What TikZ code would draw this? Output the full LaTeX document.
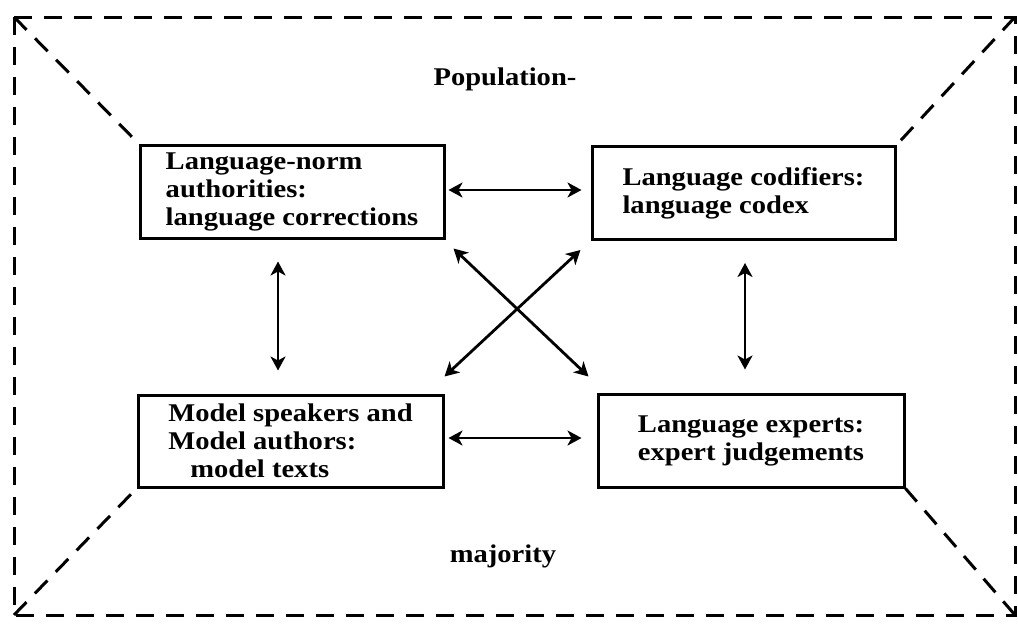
\documentclass[tikz,border=0pt]{standalone}
\usepackage{fontspec}
\setmainfont{Liberation Serif}[FakeStretch=1.12]
\usetikzlibrary{arrows.meta,calc}
\begin{document}
\begin{tikzpicture}[x=1pt,y=-1pt,
  box/.style={draw,line width=3pt,inner sep=0pt,font=\fontsize{25.5}{28}\selectfont\bfseries},
  lbl/.style={inner sep=0pt,font=\fontsize{25.5}{28}\selectfont\bfseries},
  arr/.style={line width=2.8pt,{Stealth[length=14pt,width=15pt,inset=4pt]}-{Stealth[length=14pt,width=15pt,inset=4pt]}},
  dsh/.style={line width=3pt,dash pattern=on 18pt off 12pt}]
\useasboundingbox (0,0) rectangle (1018,632);
\coordinate (otl) at (14,17);
\coordinate (otr) at (1015,17);
\coordinate (obl) at (14,615);
\coordinate (obr) at (1015,615);
\draw[dsh] (otl) -- (otr) -- (obr) -- (obl) -- cycle;
\node[box,minimum width=304pt,minimum height=93pt,align=left] (b1) at (292,191.5)
  {Language-norm\\authorities:\\language corrections};
\node[box,minimum width=303pt,minimum height=93pt,align=left] (b2) at (743.5,193)
  {Language codifiers:\\language codex};
\node[box,minimum width=305pt,minimum height=92pt,align=left] (b3) at (290.5,441)
  {Model speakers and\\Model authors:\\\hspace*{22pt}model texts};
\node[box,minimum width=306pt,minimum height=93pt,align=center] (b4) at (751,440.5)
  {Language experts:\\expert judgements};
\node[lbl] (pop) at (505,79) {Population-};
\node[lbl] (maj) at (503,556) {majority};
\draw[dsh] (otl) -- (b1.north west);
\draw[dsh] (otr) -- (b2.north east);
\draw[dsh] (obl) -- (b3.south west);
\draw[dsh] (obr) -- (b4.south east);
\draw[arr] ($(b1.east)+(3,-1.5)$) -- ($(b2.west)+(-9,-3)$);
\draw[arr] ($(b3.east)+(4,-3)$) -- ($(b4.west)+(-15,-2.5)$);
\draw[arr] ($(b1.south)+(-14,22)$) -- ($(b3.north)+(-12.5,-23)$);
\draw[arr] ($(b2.south)+(1.5,22)$) -- ($(b4.north)+(-6,-23)$);
\draw[arr] ($(b1.south east)+(8,9)$) -- ($(b4.north west)+(-8,-16)$);
\draw[arr] ($(b2.south west)+(-10,9)$) -- ($(b3.north east)+(0,-17)$);
\end{tikzpicture}
\end{document}
